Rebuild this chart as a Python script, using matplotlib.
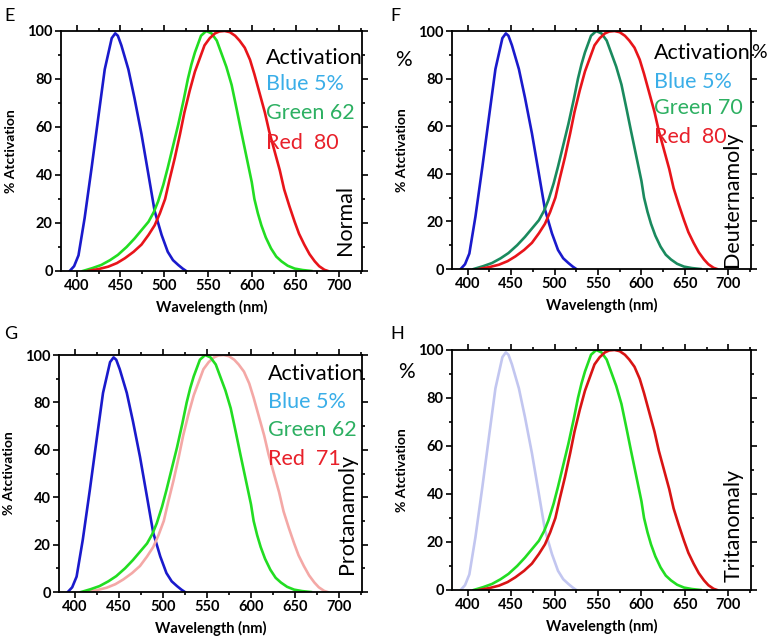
import matplotlib
matplotlib.use("Agg")
import matplotlib.pyplot as plt
from matplotlib.ticker import MultipleLocator

plt.rcParams['font.family'] = ['Lato', 'DejaVu Sans']

# cone sensitivity curves
blue_wl = [392, 397, 402, 409, 417, 425, 432, 440, 444, 447, 451, 459, 466, 474, 482, 489, 497, 504, 510, 516, 521, 525]
blue_act = [0, 2, 6.5, 22, 43, 65, 84, 97, 99, 98, 94, 84, 72, 57, 40, 25, 15, 8, 4.5, 2.5, 1, 0]

green_wl = [407, 418, 428, 438, 447, 457, 466, 474, 482, 488, 493, 499, 504, 510, 516, 522, 527, 531, 535, 539,
            542, 548, 554, 560, 565, 571, 577, 583, 588, 592, 596, 600, 603, 607, 611, 616, 622, 628, 634, 641, 649, 658, 668]
green_act = [0, 1.2, 2.5, 4.5, 6.7, 10, 13.5, 17, 20.5, 24.5, 29, 36, 43, 52, 61, 71, 80, 86, 91, 95,
             98, 100, 99, 96, 91, 85, 77.5, 67, 58, 51, 44, 37, 30, 24, 19, 14, 9.4, 6, 4, 2.2, 1, 0.4, 0]

red_wl = [413, 425, 436, 446, 455, 465, 474, 482, 489, 495, 501, 506, 512, 518, 523, 529, 535, 541, 546, 552,
          558, 563, 569, 575, 581, 586, 592, 598, 603, 609, 615, 620, 626, 632, 637, 643, 649, 654, 660, 666,
          672, 677, 683, 687]
red_act = [0, 0.8, 1.8, 3.3, 5.3, 8, 11, 15, 19, 24, 30, 38, 47, 57, 66, 75, 83, 89, 94, 97,
           99, 99.8, 100, 99.5, 98, 96, 93, 88, 82, 74, 66, 58, 50, 42, 34, 27, 20.5, 15.5, 11, 7,
           4, 2, 0.5, 0]

panels = ['E', 'F', 'G', 'H']
conditions = ['Normal', 'Deuternamoly', 'Protanamoly', 'Tritanomaly']
green_pct = ['62', '70', '62', None]
red_pct = ['80', '80', '71', None]
activation_title = ['Activation', 'Activation', 'Activation', None]

blue_colors = ['#1a1acc', '#1a1acc', '#1a1acc', '#c2c6f0']
green_colors = ['#22dd22', '#1a8a5e', '#22dd22', '#22dd22']
red_colors = ['#e8141a', '#e8141a', '#f4a8a6', '#d81414']

# axes boxes [left, bottom, width, height] in figure fraction
boxes = [[0.0794, 0.5746, 0.392, 0.3768],
         [0.5885, 0.5777, 0.3893, 0.3736],
         [0.0768, 0.0706, 0.3945, 0.3721],
         [0.5885, 0.0738, 0.3893, 0.3768]]
text_x = [0.681, 0.676, 0.69, None]
text_y = [[0.8875, 0.78, 0.658, 0.533],
          [0.907, 0.786, 0.676, 0.555],
          [0.92, 0.80, 0.684, 0.561],
          None]
cond_pos = [(0.944, 0.067), (0.936, 0.01), (0.95, 0.076), (0.943, 0.033)]
letter_pos = [(0.006, 0.975), (0.508, 0.975), (0.006, 0.475), (0.508, 0.475)]

fig = plt.figure(figsize=(7.68, 6.37), dpi=100)

for i in range(4):
    ax = fig.add_axes(boxes[i])
    ax.plot(blue_wl, blue_act, color=blue_colors[i], lw=1.9)
    if i == 2:
        ax.plot(red_wl, red_act, color=red_colors[i], lw=1.9)
        ax.plot(green_wl, green_act, color=green_colors[i], lw=1.9)
    else:
        ax.plot(green_wl, green_act, color=green_colors[i], lw=1.9)
        ax.plot(red_wl, red_act, color=red_colors[i], lw=1.9)

    ax.set_xlim(382, 726)
    ax.set_ylim(0, 100)
    ax.set_xticks([400, 450, 500, 550, 600, 650, 700])
    ax.set_yticks([0, 20, 40, 60, 80, 100])
    ax.xaxis.set_minor_locator(MultipleLocator(25))
    ax.yaxis.set_minor_locator(MultipleLocator(10))
    ax.tick_params(which='both', direction='out', top=True, right=True, width=1.2,
                   labelsize=10.5, pad=2)
    ax.tick_params(which='major', length=4)
    ax.tick_params(which='minor', length=2.5)
    for lab in ax.get_xticklabels() + ax.get_yticklabels():
        lab.set_fontweight('bold')
    for sp in ax.spines.values():
        sp.set_linewidth(1.3)

    ax.set_xlabel('Wavelength (nm)', fontsize=10.5, fontweight='bold', labelpad=5)
    ax.set_ylabel('% Atctivation', fontsize=10, fontweight='bold', labelpad=7)

    if activation_title[i] is not None:
        tx = text_x[i]
        ty = text_y[i]
        ax.text(tx, ty[0], activation_title[i], transform=ax.transAxes, fontsize=15.5,
                color='black', va='center', ha='left', clip_on=False)
        ax.text(tx, ty[1], 'Blue 5%', transform=ax.transAxes, fontsize=15.5,
                color='#3aaee8', va='center', ha='left')
        ax.text(tx, ty[2], 'Green ' + green_pct[i], transform=ax.transAxes, fontsize=15.5,
                color='#2db062', va='center', ha='left')
        ax.text(tx, ty[3], 'Red  ' + red_pct[i], transform=ax.transAxes, fontsize=15.5,
                color='#e8202a', va='center', ha='left')

    ax.text(cond_pos[i][0], cond_pos[i][1], conditions[i], transform=ax.transAxes,
            fontsize=15.5, rotation=90, ha='center', va='bottom')

    fig.text(letter_pos[i][0], letter_pos[i][1], panels[i], fontsize=13, ha='left', va='center')

# trailing percent of "Activation %" in panel F, kept inside the figure edge
fig.text(0.999, 0.917, '%', fontsize=14, ha='right', va='center')

# stray percent signs beside panels F and H
fig.text(0.515, 0.906, '%', fontsize=15, ha='left', va='center')
fig.text(0.518, 0.416, '%', fontsize=15, ha='left', va='center')

fig.savefig('out.png', dpi=100)
